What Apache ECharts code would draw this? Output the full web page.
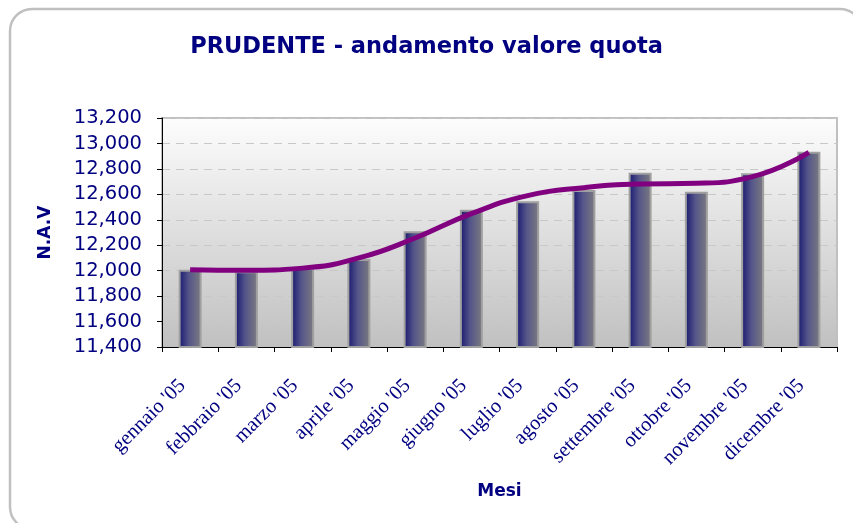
<!DOCTYPE html>
<html>
<head>
<meta charset="utf-8">
<script src="https://cdn.jsdelivr.net/npm/echarts@6/dist/echarts.min.js"></script>
<style>
  html,body{margin:0;padding:0;background:#fff;}
  #chart{width:853px;height:523px;}
</style>
</head>
<body>
<div id="chart"></div>
<script>
// mesi e valori quota
var mesi = ["gennaio '05","febbraio '05","marzo '05","aprile '05","maggio '05","giugno '05",
  "luglio '05","agosto '05","settembre '05","ottobre '05","novembre '05","dicembre '05"]
var nav = [12008, 11995, 12020, 12092, 12310, 12478, 12545, 12634, 12770, 12620, 12765, 12935]
var tendenza = [12008, 12003, 12020, 12100, 12257, 12448, 12590, 12652, 12681, 12687, 12739, 12930]

var navy = '#000080'
var chart = echarts.init(document.getElementById('chart'))

chart.setOption({
  animation:false,
  backgroundColor:'#fff',
  title:{
    text:'PRUDENTE - andamento valore quota',
    left:'center', top:31,
    textStyle:{color:navy,fontFamily:'DejaVu Sans',fontWeight:'bold',fontSize:22.5}
  },
  graphic:[{
    type:'rect', z:-10,
    shape:{x:10,y:9,width:852,height:520,r:22},
    style:{fill:'#fff',stroke:'#c0c0c0',lineWidth:2.5}
  }],
  grid:{
    left:162, top:118, right:16, bottom:176,
    show:true,
    borderColor:'#c0c0c0', borderWidth:2,
    backgroundColor:new echarts.graphic.LinearGradient(0,0,0,1,[
      {offset:0,color:'#fdfdfd'},{offset:1,color:'#c0c0c0'}
    ])
  },
  xAxis:{
    type:'category',
    data:mesi,
    name:'Mesi', nameLocation:'middle', nameGap:136,
    nameTextStyle:{color:navy,fontFamily:'DejaVu Sans',fontWeight:'bold',fontSize:17},
    axisLine:{lineStyle:{color:'#000',width:1}},
    axisTick:{show:true,length:5,lineStyle:{color:'#000'}},
    axisLabel:{rotate:45,margin:28,padding:[0,11,0,0],color:navy,fontFamily:'Liberation Serif',fontSize:20.5}
  },
  yAxis:{
    type:'value', min:11400, max:13200, interval:200,
    name:'N.A.V', nameLocation:'middle', nameGap:108,
    nameTextStyle:{color:navy,fontFamily:'DejaVu Sans',fontWeight:'bold',fontSize:17},
    axisLine:{show:true,lineStyle:{color:'#000',width:1}},
    axisTick:{show:true,length:5,lineStyle:{color:'#000'}},
    axisLabel:{
      color:navy, fontFamily:'DejaVu Sans', fontSize:19.5, margin:20,
      formatter:function(v){ return v.toLocaleString('en-US') }
    },
    splitLine:{show:true,lineStyle:{color:'#c8c8c8',type:[8,6],width:1}}
  },
  series:[
    {
      type:'bar', data:nav, barWidth:23,
      itemStyle:{
        color:new echarts.graphic.LinearGradient(0,0,1,0,[
          {offset:0,color:'#161670'},{offset:0.45,color:'#55558a'},{offset:1,color:'#7c7c80'}
        ]),
        borderColor:'#a0a0a0', borderWidth:2
      }
    },
    {
      type:'line', data:tendenza, smooth:0.5, showSymbol:false, symbol:'none',
      lineStyle:{color:'#800080',width:5}, z:5
    }
  ]
})
</script>
</body>
</html>
